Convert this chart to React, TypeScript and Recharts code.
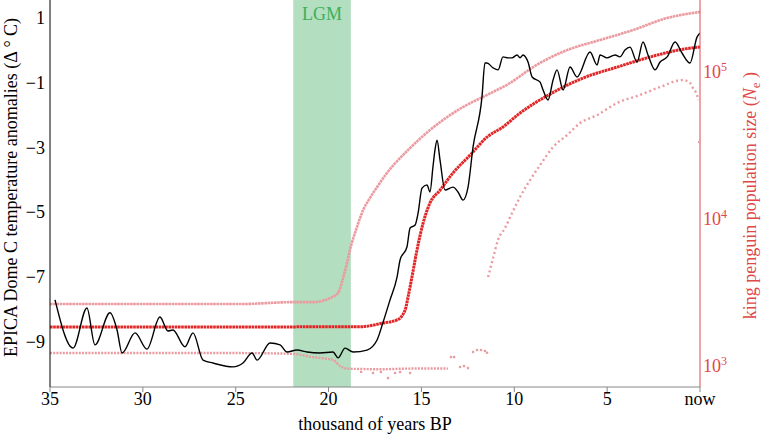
import React from 'react';
import { ComposedChart, Line, XAxis, YAxis, ReferenceArea, Scatter } from 'recharts';

const SERIF = '"Liberation Serif", "Times New Roman", serif';
const RED = '#e02626';
const PINK = '#eb9aa0';
const AXIS_RED = '#e04848';

const xTicks = [35, 30, 25, 20, 15, 10, 5, 0];
const leftTicks = [1, -1, -3, -5, -7, -9];
const rightTicks = [1000, 10000, 100000];
const lgmRange = [21.9, 18.8];

// EPICA Dome C temperature anomaly (thousand years BP, deg C)
const tempAge = [34.73, 33.76, 33.01, 32.58, 31.77, 31.39, 31.12, 30.42, 29.78, 29.08, 28.65, 28.38, 27.73, 27.30, 26.76, 26.22, 25.15, 24.61, 24.12, 23.85, 23.15, 22.61, 22.24, 21.70, 21.16, 20.46, 19.76, 19.49, 19.11, 18.68, 17.93, 17.39, 17.07, 16.69, 16.31, 16.15, 15.78, 15.61, 15.34, 15.18, 14.97, 14.70, 14.54, 14.38, 14.27, 14.16, 14.00, 13.73, 13.30, 13.03, 12.76, 12.49, 12.22, 11.74, 11.58, 11.47, 11.14, 10.87, 10.61, 10.34, 10.12, 9.85, 9.69, 9.53, 9.26, 9.04, 8.61, 8.45, 8.18, 7.91, 7.70, 7.37, 7.00, 6.62, 5.92, 5.54, 5.38, 5.01, 4.57, 4.31, 4.04, 3.77, 3.39, 3.07, 2.80, 2.42, 2.15, 1.77, 1.34, 0.97, 0.54, 0.16, 0.00];
const tempAnomaly = [-7.70, -9.19, -7.95, -9.09, -8.10, -8.63, -9.34, -8.72, -9.22, -8.23, -8.66, -8.63, -9.15, -8.72, -9.56, -9.65, -9.77, -9.65, -9.34, -9.56, -9.03, -9.09, -9.31, -9.25, -9.31, -9.34, -9.31, -9.49, -9.19, -9.31, -9.25, -8.94, -8.40, -7.70, -6.99, -6.47, -6.07, -5.48, -5.39, -5.02, -4.25, -4.15, -4.37, -3.60, -3.07, -2.77, -3.38, -4.31, -4.22, -4.37, -4.62, -4.22, -2.98, -1.44, -0.39, -0.39, -0.54, -0.60, -0.20, -0.23, -0.23, -0.14, -0.23, -0.14, -0.36, -0.82, -0.98, -1.22, -1.53, -0.91, -0.60, -1.22, -0.51, -0.82, -0.05, -0.45, -0.14, -0.23, -0.14, -0.20, 0.01, 0.10, -0.36, 0.26, -0.14, -0.60, -0.36, -0.20, 0.26, -0.08, -0.39, 0.41, 0.54];

// King penguin Ne: median
const medianAge = [35, 18.31, 17.07, 16.31, 15.88, 15.72, 15.51, 15.24, 14.91, 14.54, 14.00, 13.30, 12.38, 11.47, 10.61, 9.69, 8.07, 6.30, 4.47, 2.69, 0.91, 0];
const medianNe = [1840, 1850, 1960, 2060, 2400, 2950, 4030, 6150, 9390, 12850, 15700, 20600, 27200, 36100, 42300, 52600, 70800, 91000, 108000, 126500, 143000, 148000];

// upper bound
const upperAge = [35, 24.77, 21.91, 20.84, 19.92, 19.49, 19.22, 19.01, 18.85, 18.47, 18.14, 17.77, 17.39, 16.85, 15.61, 14.54, 12.76, 11.47, 10.23, 8.99, 7.16, 5.38, 3.61, 1.77, 0];
const upperNe = [2640, 2640, 2720, 2720, 2900, 3140, 3970, 5020, 6150, 8830, 11500, 13900, 16500, 20600, 30400, 40300, 57800, 69800, 84200, 108000, 141000, 165000, 193000, 233000, 256000];

// lower bound (early, continuous part)
const lowerAgeA = [35, 24.77, 21.91, 20.84, 20.30, 19.76, 19.38, 19.01, 18.31, 17.23, 16.15, 15.08, 14.00, 13.57];
const lowerNeA = [1225, 1225, 1210, 1150, 1130, 1100, 1000, 960, 955, 950, 958, 962, 962, 960];

// lower bound (scattered samples)
const lowerDotAge = [18.25, 17.61, 17.18, 16.80, 16.42, 16.15, 15.61, 13.41, 13.24, 12.92, 12.71, 12.49, 12.22, 12.01, 11.79, 11.58, 11.47, 0.04];
const lowerDotNe = [910, 896, 910, 828, 896, 910, 896, 1150, 1150, 985, 1000, 968, 1245, 1285, 1285, 1265, 1230, 33400];

// lower bound (late, recovered part)
const lowerAgeB = [11.41, 11.14, 10.88, 10.50, 10.12, 9.69, 9.15, 8.61, 7.91, 7.16, 6.46, 5.54, 4.47, 3.23, 2.15, 0.91, 0.54, 0.38, 0.16, 0.08];
const lowerNeB = [4030, 5430, 7190, 8690, 10990, 14120, 18420, 23280, 30880, 37250, 44970, 50950, 61490, 69770, 79100, 88300, 84200, 77800, 69800, 64500];

const rows = (ages: number[], vals: number[]) => ages.map((t, i) => ({ t, v: vals[i] }));

const tempData = rows(tempAge, tempAnomaly);
const medianData = rows(medianAge, medianNe);
const upperData = rows(upperAge, upperNe);
const lowerDataA = rows(lowerAgeA, lowerNeA);
const lowerDataB = rows(lowerAgeB, lowerNeB);
const lowerDots = rows(lowerDotAge, lowerDotNe);

const XTick = (props: any) => {
  const { x, y, payload } = props;
  const v = payload.value;
  return (
    <text x={x} y={y + 13} fill="#000" fontSize={18} fontFamily={SERIF} textAnchor="middle">
      {v === 0 ? 'now' : String(v)}
    </text>
  );
};

const LeftTick = (props: any) => {
  const { x, y, payload } = props;
  const v = payload.value;
  return (
    <text x={x} y={y + 6} fill="#000" fontSize={18} fontFamily={SERIF} textAnchor="end">
      {v < 0 ? '\u2212' + Math.abs(v) : String(v)}
    </text>
  );
};

const RightTick = (props: any) => {
  const { x, y, payload } = props;
  const exp = Math.round(Math.log10(payload.value));
  return (
    <text x={x} y={y + 6} fill={AXIS_RED} fontSize={18} fontFamily={SERIF} textAnchor="start">
      <tspan>10</tspan>
      <tspan dy={-7} fontSize={12}>{exp}</tspan>
    </text>
  );
};

const LeftLabel = (props: any) => {
  const vb = props.viewBox || { x: 0, y: 0, width: 50, height: 387 };
  const cx = vb.x + 17;
  const cy = vb.y + vb.height / 2 - 6;
  return (
    <text x={cx} y={cy} transform={`rotate(-90 ${cx} ${cy})`} textAnchor="middle" fontSize={18} fontFamily={SERIF} fill="#000">
      EPICA Dome C temperature anomalies (Δ ° C)
    </text>
  );
};

const RightLabel = (props: any) => {
  const vb = props.viewBox || { x: 700, y: 0, width: 66, height: 387 };
  const cx = vb.x + 56;
  const cy = vb.y + vb.height / 2 + 2;
  return (
    <text x={cx} y={cy} transform={`rotate(-90 ${cx} ${cy})`} textAnchor="middle" fontSize={18} fontFamily={SERIF} fill={AXIS_RED}>
      <tspan>king penguin population size (</tspan>
      <tspan fontStyle="italic">N</tspan>
      <tspan fontSize={13} dy={4}>e</tspan>
      <tspan dy={-4}> )</tspan>
    </text>
  );
};

const BottomLabel = (props: any) => {
  const vb = props.viewBox || { x: 50, y: 387, width: 650, height: 47 };
  return (
    <text x={vb.x + vb.width / 2} y={vb.y + 43} textAnchor="middle" fontSize={18} fontFamily={SERIF} fill="#000">
      thousand of years BP
    </text>
  );
};

const LgmLabel = (props: any) => {
  const vb = props.viewBox || { x: 293, y: 0, width: 57, height: 387 };
  return (
    <text x={vb.x + vb.width / 2} y={vb.y + 20} textAnchor="middle" fontSize={18} fontFamily={SERIF} fill="#3cb05a">
      LGM
    </text>
  );
};

const Dot = (p: any) => <circle cx={p.cx} cy={p.cy} r={1.3} fill={PINK} />;

export default function App() {
  return (
    <div style={{ position: 'absolute', left: 0, top: 0, background: '#fff', fontFamily: SERIF }}>
      <ComposedChart width={766} height={434} margin={{ top: 0, right: 0, bottom: 0, left: 0 }} style={{ fontFamily: SERIF }}>
        <XAxis
          dataKey="t"
          type="number"
          domain={[0, 35]}
          reversed
          ticks={xTicks}
          interval={0}
          allowDataOverflow
          height={47}
          axisLine={{ stroke: '#888' }}
          tickLine={{ stroke: '#888' }}
          tickSize={5}
          tickMargin={0}
          tick={<XTick />}
          label={{ content: BottomLabel }}
        />
        <YAxis
          yAxisId="left"
          orientation="left"
          type="number"
          domain={[-10.39, 1.556]}
          allowDataOverflow
          ticks={leftTicks}
          interval={0}
          width={50}
          axisLine={{ stroke: '#000' }}
          tickLine={false}
          tickSize={0}
          tickMargin={5}
          tick={<LeftTick />}
          label={{ content: LeftLabel }}
        />
        <YAxis
          yAxisId="right"
          orientation="right"
          type="number"
          scale="log"
          domain={[720, 309000]}
          allowDataOverflow
          ticks={rightTicks}
          interval={0}
          width={66}
          axisLine={{ stroke: AXIS_RED }}
          tickLine={false}
          tickSize={0}
          tickMargin={3}
          tick={<RightTick />}
          label={{ content: RightLabel }}
        />
        <ReferenceArea
          yAxisId="left"
          x1={lgmRange[0]}
          x2={lgmRange[1]}
          fill="#b3dec0"
          fillOpacity={1}
          stroke="none"
          label={{ content: LgmLabel }}
        />
        <Line data={upperData} dataKey="v" yAxisId="right" type="monotone" stroke={PINK} strokeWidth={2.6} strokeDasharray="2.6 0.6" dot={false} activeDot={false} isAnimationActive={false} />
        <Line data={lowerDataA} dataKey="v" yAxisId="right" type="monotone" stroke={PINK} strokeWidth={2.4} strokeDasharray="2 1.2" dot={false} activeDot={false} isAnimationActive={false} />
        <Line data={lowerDataB} dataKey="v" yAxisId="right" type="monotone" stroke={PINK} strokeWidth={2.4} strokeDasharray="2 2.8" dot={false} activeDot={false} isAnimationActive={false} />
        <Scatter data={lowerDots} dataKey="v" yAxisId="right" fill={PINK} shape={Dot} isAnimationActive={false} />
        <Line data={medianData} dataKey="v" yAxisId="right" type="monotone" stroke={RED} strokeWidth={3} strokeDasharray="2.6 0.6" dot={false} activeDot={false} isAnimationActive={false} />
        <Line data={tempData} dataKey="v" yAxisId="left" type="monotone" stroke="#000" strokeWidth={1.4} dot={false} activeDot={false} isAnimationActive={false} />
      </ComposedChart>
    </div>
  );
}
